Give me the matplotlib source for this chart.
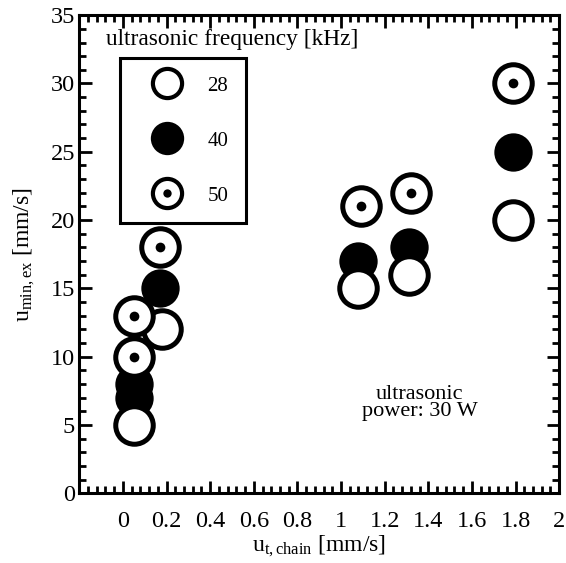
import matplotlib
matplotlib.use("Agg")
import matplotlib.pyplot as plt
from matplotlib.lines import Line2D
from matplotlib.ticker import MultipleLocator

plt.rcParams['font.family'] = ['Liberation Serif', 'DejaVu Serif']
plt.rcParams['mathtext.fontset'] = 'stix'

# ultrasonic frequency 28 kHz (open circles)
x28 = [0.05, 0.18, 1.08, 1.31, 1.79]
y28 = [5, 12, 15, 16, 20]
# 40 kHz (filled circles)
x40 = [0.05, 0.05, 0.17, 1.08, 1.31, 1.79]
y40 = [7, 8, 15, 17, 18, 25]
# 50 kHz (circle with dot)
x50 = [0.05, 0.05, 0.17, 1.09, 1.32, 1.79]
y50 = [10, 13, 18, 21, 22, 30]

freq_labels = ['28', '40', '50']
xticks = [0, 0.2, 0.4, 0.6, 0.8, 1, 1.2, 1.4, 1.6, 1.8, 2]
xtick_labels = ['0', '0.2', '0.4', '0.6', '0.8', '1', '1.2', '1.4', '1.6', '1.8', '2']

fig = plt.figure(figsize=(5.66, 5.63), dpi=100)
ax = fig.add_axes([0.14, 0.124, 0.848, 0.849])

lw = 3.6
ax.plot(x40, y40, 'o', ms=24, mfc='black', mec='black', mew=lw, zorder=2)
ax.plot(x28, y28, 'o', ms=27, mfc='white', mec='black', mew=lw, zorder=3)
ax.plot(x50, y50, 'o', ms=27, mfc='white', mec='black', mew=lw, zorder=3)
ax.plot(x50, y50, 'o', ms=7, mfc='black', mec='black', mew=0, zorder=4)

ax.set_xlim(-0.2, 2)
ax.set_ylim(0, 35)
ax.set_xticks(xticks)
ax.set_xticklabels(xtick_labels)
ax.xaxis.set_minor_locator(MultipleLocator(0.04))
ax.yaxis.set_major_locator(MultipleLocator(5))
ax.yaxis.set_minor_locator(MultipleLocator(1))
ax.tick_params(which='both', direction='in', top=True, right=True, width=2)
ax.tick_params(which='major', length=9, labelsize=17.5)
ax.tick_params(which='minor', length=5)
ax.tick_params(axis='x', which='major', pad=13)
ax.tick_params(axis='y', which='major', pad=3)
for s in ax.spines.values():
    s.set_linewidth(2.2)

ax.set_xlabel(r'$\mathregular{u_{t,chain}}$ [mm/s]', fontsize=17, labelpad=1)
ax.set_ylabel(r'$\mathregular{u_{min,ex}}$ [mm/s]', fontsize=17, labelpad=10)

ax.text(0.5, 33.2, 'ultrasonic frequency [kHz]', fontsize=16.8, ha='center', va='center')
ax.text(1.36, 6.6, 'ultrasonic\npower: 30 W', fontsize=16, ha='center', va='center',
        linespacing=0.9)

lms = 21
h28 = Line2D([], [], ls='none', marker='o', ms=lms, mfc='white', mec='black', mew=3)
h40 = Line2D([], [], ls='none', marker='o', ms=lms + 3, mfc='black', mec='black', mew=0)
h50a = Line2D([], [], ls='none', marker='o', ms=lms, mfc='white', mec='black', mew=3)
h50b = Line2D([], [], ls='none', marker='o', ms=6, mfc='black', mec='black', mew=0)
leg = ax.legend([h28, h40, (h50a, h50b)], freq_labels, loc='upper left',
                bbox_to_anchor=(0.085, 0.91), borderaxespad=0, fontsize=15,
                frameon=True, fancybox=False, edgecolor='black', framealpha=1,
                borderpad=0.85, labelspacing=1.7, handlelength=2.8,
                handletextpad=0.55)
leg.get_frame().set_linewidth(2.2)

fig.savefig('out.png', dpi=100)
